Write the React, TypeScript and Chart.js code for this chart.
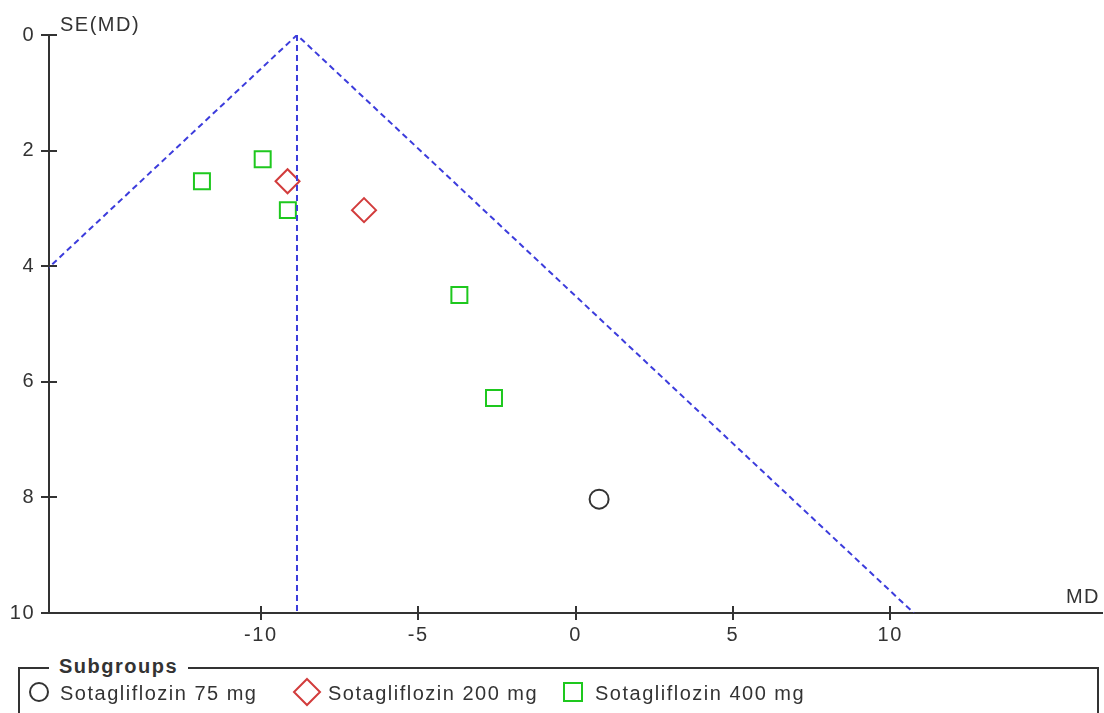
import React, { useEffect, useRef } from "react";
import { Chart, registerables } from "chart.js";

Chart.register(...registerables);

// ---- data ----
const subgroupNames = ["Sotagliflozin 75 mg", "Sotagliflozin 200 mg", "Sotagliflozin 400 mg"];
const md75 = [0.75];
const se75 = [8.03];
const md200 = [-9.15, -6.72];
const se200 = [2.53, 3.03];
const md400 = [-11.87, -9.94, -9.14, -3.69, -2.59];
const se400 = [2.53, 2.15, 3.03, 4.5, 6.28];
const pooledMD = -8.85;
const seMax = 10;
const xTicks = [-10, -5, 0, 5, 10];
const yTicks = [0, 2, 4, 6, 8, 10];
const xMin = -16.73;
const xMax = 16.73;
const xTitle = "MD";
const yTitle = "SE(MD)";
const legendTitle = "Subgroups";

// ---- styles ----
const FONT = '"Liberation Sans", Arial, sans-serif';
const TEXT = "#333333";
const AXIS = "#333333";
const BLUE = "#3c3cdc";
const RED = "#d23c3c";
const GREEN = "#1ec81e";
const BLACK = "#333333";
const SPACING = "1.5px";

const toPts = (xs: number[], ys: number[]) => xs.map((x, i) => ({ x, y: ys[i] }));

const axisDecor = {
  id: "axisDecor",
  beforeDraw(chart: any) {
    chart.ctx.letterSpacing = SPACING;
  },
  afterDraw(chart: any) {
    const { ctx, chartArea, scales } = chart;
    ctx.save();
    ctx.strokeStyle = AXIS;
    ctx.lineWidth = 2;
    ctx.beginPath();
    scales.y.ticks.forEach((t: any) => {
      const py = Math.round(scales.y.getPixelForValue(t.value));
      ctx.moveTo(chartArea.left, py);
      ctx.lineTo(chartArea.left + 8, py);
    });
    scales.x.ticks.forEach((t: any) => {
      const px = Math.round(scales.x.getPixelForValue(t.value));
      ctx.moveTo(px, chartArea.bottom);
      ctx.lineTo(px, chartArea.bottom - 7);
    });
    ctx.stroke();
    ctx.fillStyle = TEXT;
    ctx.font = `20px ${FONT}`;
    ctx.letterSpacing = SPACING;
    ctx.textBaseline = "alphabetic";
    ctx.textAlign = "left";
    ctx.fillText(yTitle, chartArea.left + 11, chartArea.top - 4);
    ctx.textAlign = "right";
    ctx.fillText(xTitle, chartArea.right - 2, chartArea.bottom - 10);
    ctx.restore();
  },
};

function FunnelChart() {
  const ref = useRef<HTMLCanvasElement | null>(null);
  useEffect(() => {
    if (!ref.current) return;
    const funnel = [
      { x: pooledMD - 1.96 * seMax, y: seMax },
      { x: pooledMD, y: 0 },
      { x: pooledMD + 1.96 * seMax, y: seMax },
    ];
    const vertical = [
      { x: pooledMD, y: 0 },
      { x: pooledMD, y: seMax },
    ];
    const lineDs = (data: any[]) => ({
      type: "line",
      data,
      showLine: true,
      borderColor: BLUE,
      borderWidth: 2,
      borderDash: [6, 4],
      pointRadius: 0,
      fill: false,
      tension: 0,
    });
    const chart = new Chart(ref.current, {
      type: "scatter",
      data: {
        datasets: [
          lineDs(funnel) as any,
          lineDs(vertical) as any,
          {
            label: subgroupNames[0],
            data: toPts(md75, se75),
            pointStyle: "circle",
            pointRadius: 9.5,
            pointBorderWidth: 2,
            borderColor: BLACK,
            backgroundColor: "transparent",
          },
          {
            label: subgroupNames[1],
            data: toPts(md200, se200),
            pointStyle: "rectRot",
            pointRadius: 12,
            pointBorderWidth: 2,
            borderColor: RED,
            backgroundColor: "transparent",
          },
          {
            label: subgroupNames[2],
            data: toPts(md400, se400),
            pointStyle: "rect",
            pointRadius: 11.3,
            pointBorderWidth: 2,
            borderColor: GREEN,
            backgroundColor: "transparent",
          },
        ],
      },
      options: {
        animation: false,
        responsive: false,
        events: [],
        layout: { autoPadding: false, padding: { top: 35, right: 2, left: 0, bottom: 0 } },
        plugins: { legend: { display: false }, tooltip: { enabled: false } },
        scales: {
          x: {
            type: "linear",
            min: xMin,
            max: xMax,
            afterBuildTicks: (s: any) => {
              s.ticks = xTicks.map((v) => ({ value: v }));
            },
            afterFit: (s: any) => {
              s.height = 47;
              s.paddingLeft = 0;
              s.paddingRight = 0;
            },
            ticks: {
              padding: 3,
              color: TEXT,
              font: { family: FONT, size: 20 },
              maxRotation: 0,
              autoSkip: false,
            },
            grid: { drawOnChartArea: false, drawTicks: true, tickLength: 7, color: AXIS, lineWidth: 2 },
            border: { display: true, color: AXIS, width: 2 },
          },
          y: {
            type: "linear",
            reverse: true,
            min: 0,
            max: seMax,
            afterBuildTicks: (s: any) => {
              s.ticks = yTicks.map((v) => ({ value: v }));
            },
            afterFit: (s: any) => {
              s.width = 49;
              s.paddingTop = 0;
              s.paddingBottom = 0;
            },
            ticks: {
              padding: 6,
              color: TEXT,
              font: { family: FONT, size: 20 },
              autoSkip: false,
            },
            grid: { drawOnChartArea: false, drawTicks: true, tickLength: 8, color: AXIS, lineWidth: 2 },
            border: { display: true, color: AXIS, width: 2 },
          },
        },
      } as any,
      plugins: [axisDecor as any],
    });
    return () => chart.destroy();
  }, []);
  return <canvas ref={ref} width={1104} height={660} style={{ display: "block" }} />;
}

const txt: React.CSSProperties = {
  position: "absolute",
  fontFamily: FONT,
  fontSize: 20,
  letterSpacing: SPACING,
  color: TEXT,
  lineHeight: "23px",
  whiteSpace: "nowrap",
};

export default function App() {
  return (
    <div style={{ position: "absolute", left: 0, top: 0, width: 1104, height: 713, overflow: "hidden", background: "#fff" }}>
      <div style={{ position: "absolute", left: 0, top: 0 }}>
        <FunnelChart />
      </div>
      <div
        style={{
          position: "absolute",
          left: 18,
          top: 667,
          width: 1077,
          height: 80,
          border: `2px solid ${AXIS}`,
        }}
      />
      <div style={{ ...txt, left: 49, top: 655, fontWeight: "bold", background: "#fff", padding: "0 10px" }}>{legendTitle}</div>
      <svg style={{ position: "absolute", left: 0, top: 670 }} width={1104} height={43}>
        <circle cx={39} cy={22} r={9} fill="none" stroke={BLACK} strokeWidth={2} />
        <polygon points="307,9 320,22 307,35 294,22" fill="none" stroke={RED} strokeWidth={2} />
        <rect x={564} y={13} width={18} height={18} fill="none" stroke={GREEN} strokeWidth={2} />
      </svg>
      <div style={{ ...txt, left: 60, top: 682 }}>{subgroupNames[0]}</div>
      <div style={{ ...txt, left: 328, top: 682 }}>{subgroupNames[1]}</div>
      <div style={{ ...txt, left: 595, top: 682 }}>{subgroupNames[2]}</div>
    </div>
  );
}
